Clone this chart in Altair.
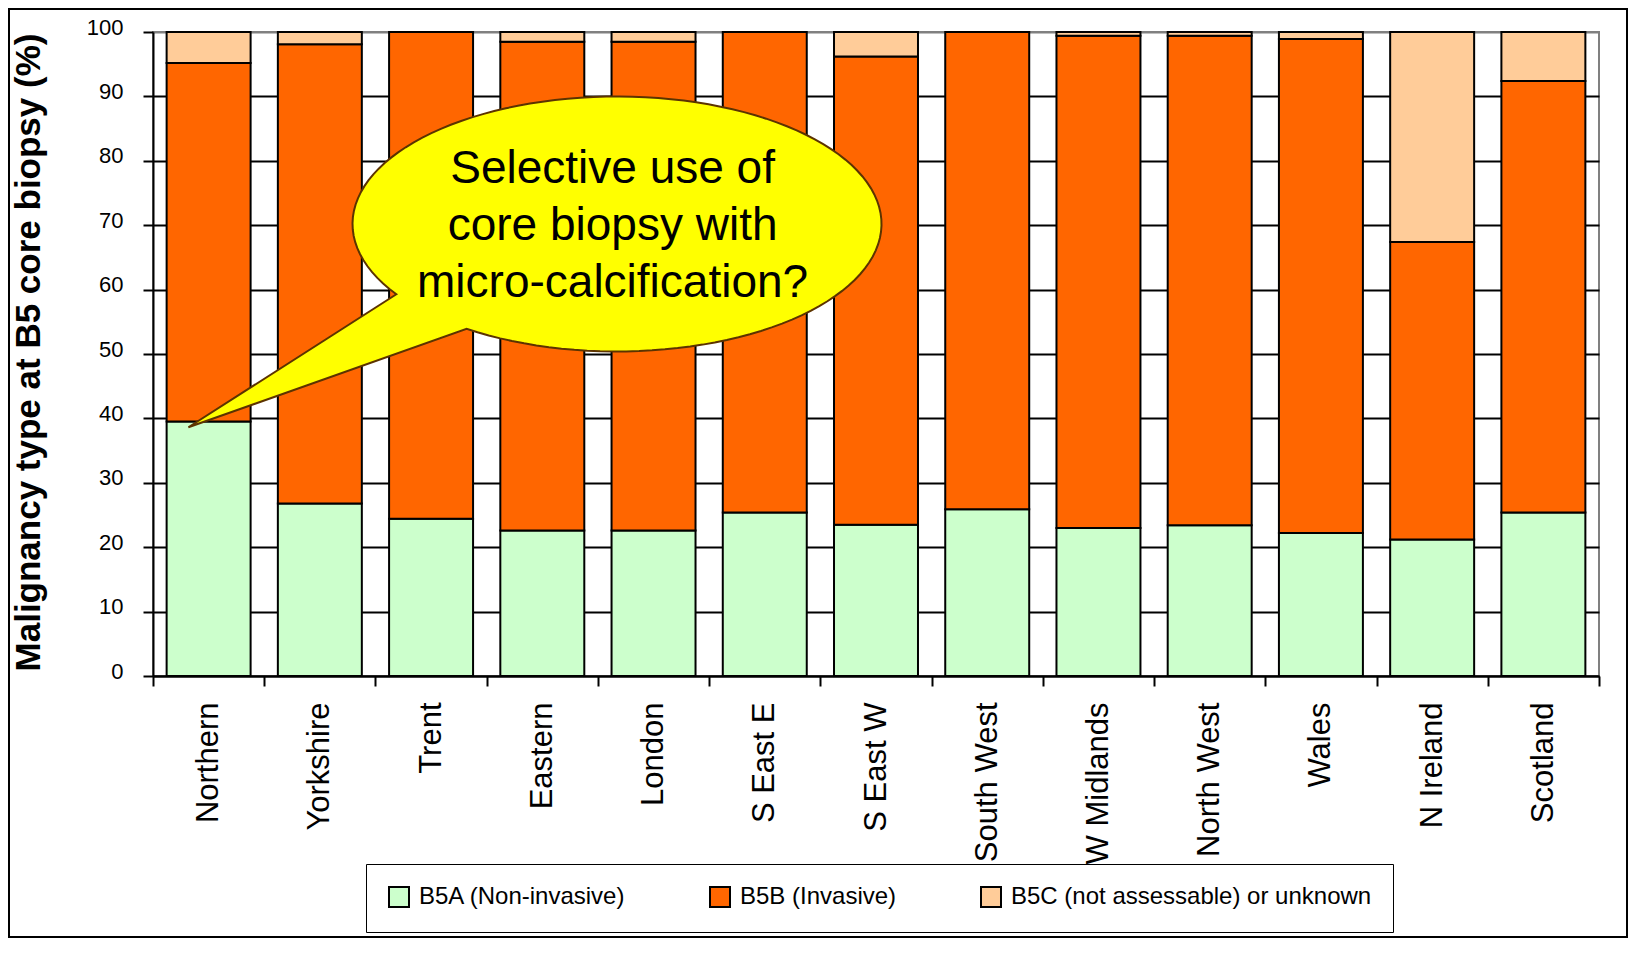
import math
import altair as alt
import pandas as pd

# ---------------- data ----------------
regions = ["Northern", "Yorkshire", "Trent", "Eastern", "London", "S East E", "S East W",
           "South West", "W Midlands", "North West", "Wales", "N Ireland", "Scotland"]
b5a = [39.5, 26.8, 24.4, 22.6, 22.6, 25.4, 23.5, 25.9, 23.0, 23.4, 22.2, 21.2, 25.4]
b5b = [55.7, 71.3, 75.6, 75.9, 75.9, 74.6, 72.7, 74.1, 76.4, 76.0, 76.7, 46.2, 67.0]
b5c = [4.8, 1.9, 0.0, 1.5, 1.5, 0.0, 3.8, 0.0, 0.6, 0.6, 1.1, 32.6, 7.6]
series = ["B5A (Non-invasive)", "B5B (Invasive)", "B5C (not assessable) or unknown"]
colors = ["#CCFFCC", "#FF6600", "#FFCC99"]
y_ticks = [0, 10, 20, 30, 40, 50, 60, 70, 80, 90, 100]
y_title = "Malignancy type at B5 core biopsy (%)"
callout_text = "Selective use of\ncore biopsy with\nmicro-calcification?"
callout_anchor_region = "Northern"
callout_anchor_value = 38.7

rows = []
for i, r in enumerate(regions):
    for j, vals in enumerate([b5a, b5b, b5c]):
        if vals[i] > 0:
            rows.append({"Region": r, "Type": series[j], "Pct": vals[i], "order": j})
df = pd.DataFrame(rows)

FONT = "Liberation Sans"
W, H = 1446, 644
PAD_L, PAD_T, PAD_R, PAD_B = 145, 24, 29, 262

# ---------------- callout shape (relative to anchor, px) ----------------
k = 100.0
cx, cy, rx, ry = 408.4, -202.8, 264.5, 127.5
tip = (-20.2, 0.5)
b1 = (188.7, -132.8)
b2 = (257.4, -97.5)
t1 = math.atan2((b1[1] - cy) / ry, (b1[0] - cx) / rx)
t2 = math.atan2((b2[1] - cy) / ry, (b2[0] - cx) / rx)
if t2 < t1:
    t2 += 2 * math.pi
n = 120
pts = []
for s in range(n + 1):
    t = t1 + (t2 - t1) * s / n
    pts.append((cx + rx * math.cos(t), cy + ry * math.sin(t)))
pts.append(tip)
path = "M" + " L".join(f"{x / k:.4f},{y / k:.4f}" for x, y in pts) + " Z"

x_enc = alt.X("Region:N", sort=regions,
              scale=alt.Scale(domain=regions, paddingInner=0, paddingOuter=0),
              axis=alt.Axis(title=None, labelAngle=270, labelAlign="right", labelBaseline="middle",
                            labelFontSize=31, labelFont=FONT, labelColor="black", labelPadding=16,
                            tickSize=10, tickWidth=2, tickColor="black", tickBand="extent",
                            domainColor="black", domainWidth=2, grid=False))

bars = alt.Chart(df).mark_bar(stroke="black", strokeWidth=2,
                              width=alt.RelativeBandSize(0.755)).encode(
    x=x_enc,
    y=alt.Y("Pct:Q", stack="zero",
            scale=alt.Scale(domain=[0, 100], nice=False),
            axis=alt.Axis(values=y_ticks, title=y_title, titleFont=FONT, titleFontSize=35,
                          titleFontWeight="bold", titleColor="black", titleAngle=270,
                          titleAlign="center", titleBaseline="middle", titleX=-125, titleY=320,
                          labelFont=FONT, labelFontSize=22, labelColor="black",
                          labelPadding=20, labelOffset=-5,
                          tickSize=10, tickWidth=2, tickColor="black",
                          domainColor="black", domainWidth=2,
                          grid=True, gridWidth=2,
                          gridColor={"condition": {"test": "datum.value === 100", "value": "#808080"},
                                     "value": "black"})),
    color=alt.Color("Type:N", scale=alt.Scale(domain=series, range=colors),
                    legend=alt.Legend(title=None, orient="none", legendX=213, legendY=832,
                                      direction="horizontal", symbolType="square", symbolSize=400,
                                      symbolStrokeColor="black", symbolStrokeWidth=2,
                                      symbolOpacity=1, labelFont=FONT, labelFontSize=24,
                                      labelColor="black", labelLimit=800, labelOffset=8,
                                      columnPadding=80, padding=21,
                                      strokeColor="black", fillColor="white")),
    order=alt.Order("order:Q", sort="ascending"),
)

anchor_df = pd.DataFrame({"Region": [callout_anchor_region], "Pct": [callout_anchor_value],
                          "label": [callout_text]})

bubble = alt.Chart(anchor_df).mark_point(
    shape=path, size=(2 * k) ** 2, filled=True, fill="#FFFF00", stroke="#5C3300",
    strokeWidth=2, opacity=1, fillOpacity=1
).encode(x=alt.X("Region:N", sort=regions), y="Pct:Q")

bubble_text = alt.Chart(anchor_df).mark_text(
    font=FONT, fontSize=46, lineBreak="\n", lineHeight=57, align="center",
    baseline="middle", dx=404, dy=-258, color="black"
).encode(x=alt.X("Region:N", sort=regions), y="Pct:Q", text="label:N")

frame = alt.Chart(anchor_df).mark_rect(fillOpacity=0, stroke="black", strokeWidth=2).encode(
    x=alt.value(-PAD_L + 1), x2=alt.value(W + PAD_R - 1),
    y=alt.value(-PAD_T + 1), y2=alt.value(H + PAD_B - 1),
)

chart = alt.layer(bars, bubble, bubble_text, frame).properties(
    width=W, height=H,
    autosize=alt.AutoSizeParams(type="none"),
    padding={"left": PAD_L, "top": PAD_T, "right": PAD_R, "bottom": PAD_B},
    background="white",
).configure_view(stroke="#808080", strokeWidth=2)

chart.save("out.html", embed_options={"renderer": "svg", "actions": False})
